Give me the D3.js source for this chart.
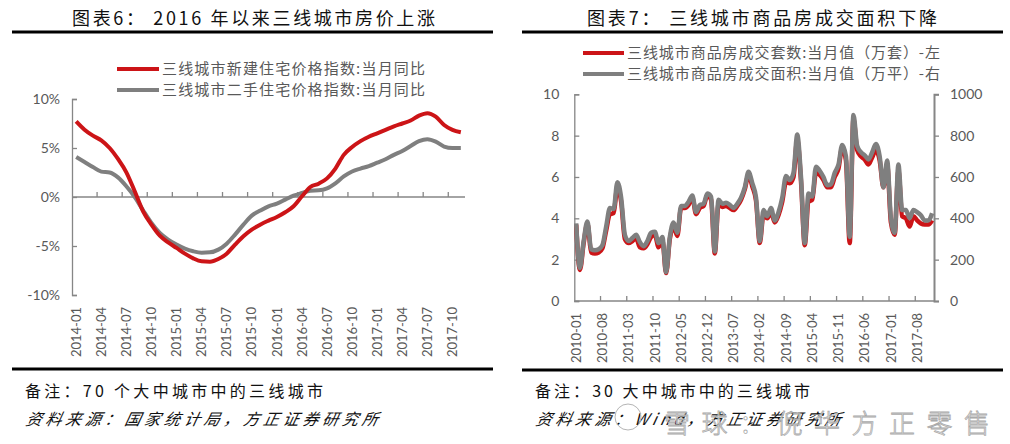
<!DOCTYPE html>
<html><head><meta charset="utf-8">
<script src="https://cdn.jsdelivr.net/npm/d3@7"></script>
<style>body{margin:0;background:#fff}</style>
</head><body>
<svg id="c" width="1010" height="444"></svg>
<script>
// ---------- DATA ----------
const fmt = d3.timeFormat("%Y-%m");
const leftMonths = d3.timeMonths(new Date(2014,0,1), new Date(2017,10,2)).map(fmt);   // 2014-01 .. 2017-11
const rightMonths = d3.timeMonths(new Date(2010,0,1), new Date(2017,11,2)).map(fmt);  // 2010-01 .. 2017-12

const leftTickLabels = ["2014-01","2014-04","2014-07","2014-10","2015-01","2015-04","2015-07","2015-10",
  "2016-01","2016-04","2016-07","2016-10","2017-01","2017-04","2017-07","2017-10"];
const leftYTicks = [-10,-5,0,5,10];

const newHomeYoY = [7.72,6.87,6.26,5.78,5.0,3.88,2.52,0.58,-1.46,-2.82,
  -3.95,-4.63,-5.2,-5.78,-6.26,-6.56,-6.6,-6.33,-5.78,-4.86,
  -4.0,-3.33,-2.82,-2.41,-2.04,-1.56,-0.95,0.07,1.02,1.36,
  1.9,2.9,4.3,5.1,5.7,6.15,6.5,6.85,7.2,7.5,
  7.8,8.3,8.55,8.2,7.35,6.85,6.6];
const usedHomeYoY = [4.08,3.57,3.06,2.59,2.5,2.0,1.1,0.0,-1.36,-2.65,
  -3.67,-4.35,-4.86,-5.27,-5.54,-5.68,-5.65,-5.37,-4.76,-3.84,
  -2.82,-1.9,-1.39,-0.95,-0.68,-0.27,0.14,0.41,0.65,0.68,
  0.88,1.4,2.1,2.6,2.9,3.15,3.5,3.85,4.3,4.7,
  5.2,5.7,5.9,5.65,5.15,5.0,5.0];

const rightTickLabels = ["2010-01","2010-08","2011-03","2011-10","2012-05","2012-12","2013-07",
  "2014-02","2014-09","2015-04","2015-11","2016-06","2017-01","2017-08"];
const leftAxisTicks = [0,2,4,6,8,10];
const rightAxisTicks = [0,200,400,600,800,1000];

// 三线城市商品房成交套数 (万套)
const unitsSold = [3.7,1.5,2.8,3.75,2.35,2.3,2.35,2.55,3.4,4.2,
  4.25,5.5,4.8,3.0,2.8,2.9,3.05,2.6,2.55,2.75,
  3.1,3.2,2.6,2.95,1.35,3.0,3.6,3.15,4.5,4.5,
  4.65,5.0,4.2,4.5,4.6,5.1,4.9,2.3,4.7,4.55,
  4.6,4.5,4.4,4.6,4.9,5.4,6.1,5.55,4.85,2.8,
  4.2,4.0,4.3,3.8,4.15,4.8,5.75,5.7,6.0,7.8,
  5.8,2.7,4.8,4.9,6.2,6.1,5.85,5.5,5.5,6.0,
  6.4,7.4,6.8,2.8,8.8,7.3,7.0,6.85,6.6,6.95,
  7.3,6.8,5.5,6.6,3.8,3.2,6.3,4.1,4.0,3.6,
  4.1,3.9,3.75,3.7,3.7,3.9];
// 三线城市商品房成交面积 (万平)
const areaSold = [375,160,290,385,250,245,250,270,360,450,
  445,575,500,320,290,305,320,285,265,290,
  330,335,280,310,140,310,380,330,460,460,
  480,510,430,465,470,520,505,240,490,470,
  475,465,450,470,500,550,625,570,500,290,
  440,410,450,390,430,500,605,585,620,805,
  600,280,520,505,650,630,600,560,565,620,
  660,755,700,310,900,750,720,705,685,720,
  760,700,550,680,400,330,660,440,440,400,
  440,430,415,390,390,425];

// ---------- DRAW ----------
const svg = d3.select("#c");
const RED = "#CC1417", GRAY = "#7F7F7F", TXT = "#595959", AX = "#868686";
const CJK = "'Noto Sans CJK SC', sans-serif";
const NUM = "Lato, 'Noto Sans', sans-serif";

function title(x1, x2, txt) {
  svg.append("text").attr("x", x1).attr("y", 25).attr("textLength", x2 - x1)
    .attr("lengthAdjust", "spacing").attr("font-family", CJK).attr("font-size", 18)
    .attr("fill", "#111").text(txt);
}
function hr(x1, x2, y) {
  svg.append("line").attr("x1", x1).attr("x2", x2).attr("y1", y).attr("y2", y)
    .attr("stroke", "#000").attr("stroke-width", 3);
}
function note(x1, x2, y, txt, italic) {
  svg.append("text").attr("x", x1).attr("y", y).attr("textLength", x2 - x1)
    .attr("lengthAdjust", "spacing").attr("font-family", CJK).attr("font-size", 16)
    .attr("font-style", italic ? "italic" : "normal").attr("fill", "#111")
    .attr("transform", italic ? `skewX(-12) translate(${y*0.2126},0)` : null).text(txt);
}
function legend(x1, x2, tx, tx2, y, color, txt) {
  svg.append("line").attr("x1", x1).attr("x2", x2).attr("y1", y).attr("y2", y)
    .attr("stroke", color).attr("stroke-width", 4);
  svg.append("text").attr("x", tx).attr("y", y).attr("dy", "0.36em")
    .attr("textLength", tx2 - tx).attr("lengthAdjust", "spacing")
    .attr("font-family", CJK).attr("font-size", 15).attr("fill", TXT).text(txt);
}

// Titles and rules
title(72, 435, "图表6：  2016 年以来三线城市房价上涨");
title(587, 937, "图表7：  三线城市商品房成交面积下降");
hr(12, 493, 32); hr(522, 1003, 32);
hr(12, 493, 369); hr(522, 1003, 370);

// ---------- LEFT CHART ----------
{
  const x = d3.scaleBand().domain(leftMonths).range([72, 465]);
  const y = d3.scaleLinear().domain([-10, 10]).range([295, 99]);
  const cx = d => x(d) + x.bandwidth() / 2;

  const ya = svg.append("g").attr("transform", "translate(72,0)")
    .call(d3.axisLeft(y).tickValues(leftYTicks).tickSize(-5).tickPadding(12).tickFormat(d => d + "%"));
  ya.select(".domain").attr("stroke", AX).attr("stroke-width", 1.3);
  ya.selectAll(".tick line").attr("stroke", AX).attr("stroke-width", 1.3);
  ya.selectAll("text").attr("font-family", NUM).attr("font-size", 14).attr("fill", TXT);

  // zero line
  svg.append("line").attr("x1", 72).attr("x2", 465).attr("y1", y(0)).attr("y2", y(0))
    .attr("stroke", AX).attr("stroke-width", 1.3);
  // tick marks at every third category boundary
  const tb = leftMonths.filter((d, i) => i > 0 && i % 3 === 0);
  svg.append("g").selectAll("line").data(tb).join("line")
    .attr("x1", d => x(d)).attr("x2", d => x(d)).attr("y1", y(0) - 5).attr("y2", y(0))
    .attr("stroke", AX).attr("stroke-width", 1.3);

  const xa = svg.append("g").attr("transform", "translate(0,295)")
    .call(d3.axisBottom(x).tickValues(leftTickLabels).tickSize(0));
  xa.select(".domain").remove();
  xa.selectAll("text").attr("transform", "rotate(-90)").attr("x", -12).attr("y", 0)
    .attr("dy", "0.36em").attr("text-anchor", "end")
    .attr("font-family", NUM).attr("font-size", 13).attr("fill", TXT);

  const line = d3.line().x((d, i) => cx(leftMonths[i])).y(d => y(d)).curve(d3.curveMonotoneX);
  svg.append("path").datum(usedHomeYoY).attr("d", line).attr("fill", "none")
    .attr("stroke", GRAY).attr("stroke-width", 4);
  svg.append("path").datum(newHomeYoY).attr("d", line).attr("fill", "none")
    .attr("stroke", RED).attr("stroke-width", 4);

  legend(117, 159, 162, 425, 69, RED, "三线城市新建住宅价格指数:当月同比");
  legend(117, 159, 162, 425, 90, GRAY, "三线城市二手住宅价格指数:当月同比");
}

// ---------- RIGHT CHART ----------
{
  const x = d3.scaleBand().domain(rightMonths).range([574.3, 934]);
  const yL = d3.scaleLinear().domain([0, 10]).range([301, 94.3]);
  const yR = d3.scaleLinear().domain([0, 1000]).range([301, 94.3]);
  const cx = d => x(d) + x.bandwidth() / 2;

  const la = svg.append("g").attr("transform", "translate(574.3,0)")
    .call(d3.axisLeft(yL).tickValues(leftAxisTicks).tickSize(-5).tickPadding(15));
  la.select(".domain").attr("stroke", AX).attr("stroke-width", 1.3);
  la.selectAll(".tick line").attr("stroke", AX).attr("stroke-width", 1.3);
  la.selectAll("text").attr("font-family", NUM).attr("font-size", 14).attr("fill", TXT);

  const ra = svg.append("g").attr("transform", "translate(934,0)")
    .call(d3.axisRight(yR).tickValues(rightAxisTicks).tickSize(5).tickPadding(11).tickFormat(d3.format("d")));
  ra.select(".domain").attr("stroke", AX).attr("stroke-width", 2);
  ra.selectAll(".tick line").attr("stroke", AX).attr("stroke-width", 1.3);
  ra.selectAll("text").attr("font-family", NUM).attr("font-size", 14).attr("fill", TXT);

  svg.append("line").attr("x1", 574.3).attr("x2", 934).attr("y1", 301).attr("y2", 301)
    .attr("stroke", AX).attr("stroke-width", 1.3);
  const tb = rightMonths.filter((d, i) => i > 0 && i % 7 === 0);
  svg.append("g").selectAll("line").data(tb).join("line")
    .attr("x1", d => x(d)).attr("x2", d => x(d)).attr("y1", 296).attr("y2", 301)
    .attr("stroke", AX).attr("stroke-width", 1.3);

  const xa = svg.append("g").attr("transform", "translate(0,301)")
    .call(d3.axisBottom(x).tickValues(rightTickLabels).tickSize(0));
  xa.select(".domain").remove();
  xa.selectAll("text").attr("transform", "rotate(-90)").attr("x", -12).attr("y", 0)
    .attr("dy", "0.36em").attr("text-anchor", "end")
    .attr("font-family", NUM).attr("font-size", 13).attr("fill", TXT);

  const lineL = d3.line().x((d, i) => cx(rightMonths[i])).y(d => yL(d)).curve(d3.curveMonotoneX);
  const lineR = d3.line().x((d, i) => cx(rightMonths[i])).y(d => yR(d)).curve(d3.curveMonotoneX);
  svg.append("path").datum(unitsSold).attr("d", lineL).attr("fill", "none")
    .attr("stroke", RED).attr("stroke-width", 4.5);
  svg.append("path").datum(areaSold).attr("d", lineR).attr("fill", "none")
    .attr("stroke", GRAY).attr("stroke-width", 4.5);

  legend(583, 624, 627, 940, 53, RED, "三线城市商品房成交套数:当月值（万套）-左");
  legend(583, 624, 627, 940, 74, GRAY, "三线城市商品房成交面积:当月值（万平）-右");
}

// Notes
note(25, 323, 397, "备注：70 个大中城市中的三线城市", false);
note(25, 377, 425, "资料来源：国家统计局，方正证券研究所", true);
note(535, 810, 397, "备注：30 大中城市中的三线城市", false);
note(535, 840, 425, "资料来源：Wind，方正证券研究所", true);

// watermark
svg.append("circle").attr("cx", 628).attr("cy", 417).attr("r", 13)
  .attr("fill", "none").attr("stroke", "#b5b5b5").attr("stroke-width", 1);
svg.append("text").attr("x", 664).attr("y", 433).attr("textLength", 326).attr("lengthAdjust", "spacing")
  .attr("font-family", CJK).attr("font-size", 26).attr("font-weight", 300)
  .attr("fill", "#fff").attr("fill-opacity", 0.7).attr("stroke", "#aaa").attr("stroke-width", 0.8)
  .text("雪球：倪华方正零售");
</script>
</body></html>
